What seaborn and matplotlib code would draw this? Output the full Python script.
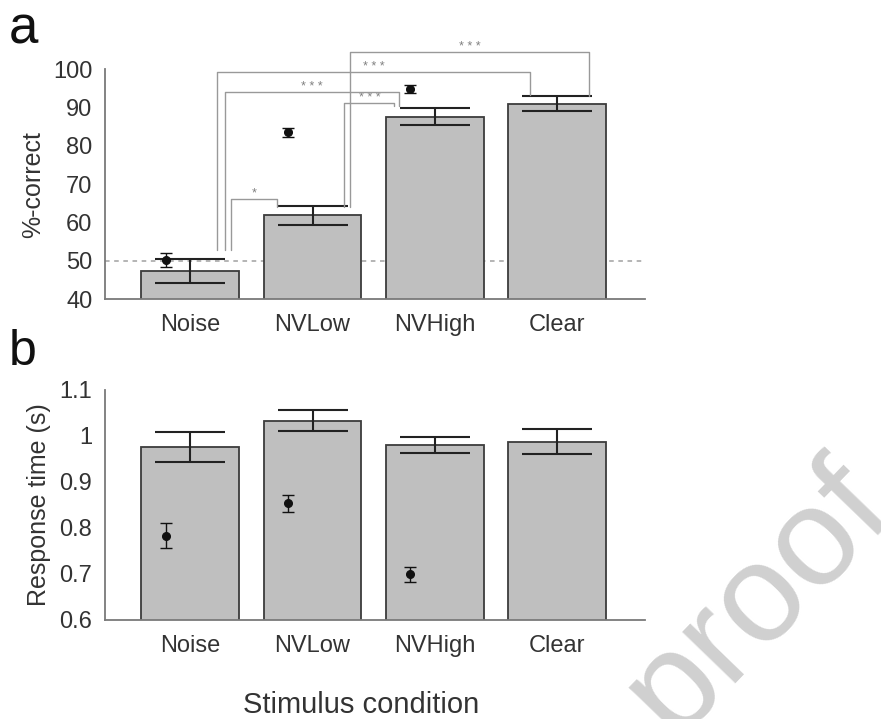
import numpy as np
import pandas as pd
import seaborn as sns
import matplotlib
matplotlib.use("Agg")
from matplotlib import pyplot as plt

conditions = ["Noise", "NVLow", "NVHigh", "Clear"]

# a: percent correct (bars = mean, dots = second measure)
acc_mean = [47.4, 61.9, 87.6, 91.0]
acc_err = [3.1, 2.5, 2.3, 2.0]
acc_dot_cond = ["Noise", "NVLow", "NVHigh"]
acc_dot = [50.3, 83.5, 94.8]
acc_dot_err = [1.8, 1.1, 1.0]

# b: response time in seconds
rt_mean = [0.975, 1.033, 0.980, 0.987]
rt_err = [0.033, 0.022, 0.017, 0.027]
rt_dot_cond = ["Noise", "NVLow", "NVHigh"]
rt_dot = [0.783, 0.853, 0.699]
rt_dot_err = [0.027, 0.018, 0.016]

# significance comparisons on panel a
sig_from = ["Noise", "Noise", "Noise", "NVLow", "NVLow"]
sig_to = ["NVLow", "NVHigh", "Clear", "NVHigh", "Clear"]
sig_label = ["*", "* * *", "* * *", "* * *", "* * *"]

# bracket geometry: offsets from category centres, line height, foot heights
br_dx_left = [0.33, 0.28, 0.22, 0.26, 0.31]
br_dx_right = [-0.29, -0.29, -0.22, -0.33, 0.26]
br_top = [66.1, 93.9, 99.1, 91.2, 104.4]
br_foot_left = [52.8, 52.8, 52.8, 64.0, 64.0]
br_foot_right = [64.1, 90.3, 93.2, 90.3, 93.0]

sns.set_style("white")
plt.rcParams["font.family"] = ["Liberation Sans", "DejaVu Sans"]
txt = "#333333"
spine_col = "#7a7a7a"

fig = plt.figure(figsize=(8.81, 7.19), dpi=100)
ax_a = fig.add_axes([0.119, 0.584, 0.613, 0.320])
ax_b = fig.add_axes([0.119, 0.138, 0.613, 0.320])

dot_shift = -0.2


def panel(ax, means, errs, dot_cond, dots, dot_errs):
    df = pd.DataFrame({"condition": conditions, "value": means})
    sns.barplot(data=df, x="condition", y="value", order=conditions, color="#bfbfbf",
                edgecolor="#3c3c3c", linewidth=1.3, width=0.8, saturation=1,
                errorbar=None, ax=ax, zorder=2)
    xs = np.arange(len(conditions))
    ax.errorbar(xs, means, yerr=errs, fmt="none", ecolor="#222222", elinewidth=1.5,
                capsize=25, capthick=1.5, zorder=3)
    dx = np.array([conditions.index(c) for c in dot_cond]) + dot_shift
    ax.errorbar(dx, dots, yerr=dot_errs, fmt="o", color="#111111", ms=5.5,
                elinewidth=1.0, capsize=4, capthick=1.0, zorder=4)
    ax.set_xlim(-0.7, 3.72)
    ax.set_xlabel("")
    for s in ["top", "right"]:
        ax.spines[s].set_visible(False)
    for s in ["left", "bottom"]:
        ax.spines[s].set_color(spine_col)
        ax.spines[s].set_linewidth(1.3)
    ax.tick_params(axis="y", direction="in", length=4, width=1, color=spine_col,
                   labelsize=17, labelcolor=txt, pad=9)
    ax.tick_params(axis="x", length=0, labelsize=17, labelcolor=txt, pad=11)


panel(ax_a, acc_mean, acc_err, acc_dot_cond, acc_dot, acc_dot_err)
ax_a.set_ylim(40, 100)
ax_a.set_yticks([40, 50, 60, 70, 80, 90, 100])
ax_a.set_ylabel("%-correct", fontsize=18, color=txt, labelpad=6)
ax_a.axhline(50, color="#a0a0a0", ls=(0, (3, 3)), lw=1.1, zorder=1)

for f, t, lab, dl, dr, top, fl, fr in zip(sig_from, sig_to, sig_label, br_dx_left,
                                         br_dx_right, br_top, br_foot_left, br_foot_right):
    x0 = conditions.index(f) + dl
    x1 = conditions.index(t) + dr
    ax_a.plot([x0, x0, x1, x1], [fl, top, top, fr], color="#999999", lw=1.0,
              clip_on=False, zorder=5)
    ax_a.text((x0 + x1) / 2, top - 0.2, lab, ha="center", va="bottom", fontsize=9,
              color="#808080", clip_on=False)

panel(ax_b, rt_mean, rt_err, rt_dot_cond, rt_dot, rt_dot_err)
ax_b.set_ylim(0.6, 1.1)
ax_b.set_yticks([0.6, 0.7, 0.8, 0.9, 1.0, 1.1])
ax_b.set_yticklabels(["0.6", "0.7", "0.8", "0.9", "1", "1.1"])
ax_b.set_ylabel("Response time (s)", fontsize=18, color=txt, labelpad=6)

fig.text(0.410, 0.020, "Stimulus condition", ha="center", va="center", fontsize=21, color=txt)
fig.text(0.010, 0.940, "a", fontsize=38, color="#111111", ha="left", va="baseline")
fig.text(0.010, 0.492, "b", fontsize=36, color="#111111", ha="left", va="baseline")

fig.text(0.890, 0.132, "proof", rotation=46, rotation_mode="anchor", fontsize=101,
         color="#d0d0d0", ha="center", va="baseline", zorder=0)

fig.savefig("out.png", dpi=100)
